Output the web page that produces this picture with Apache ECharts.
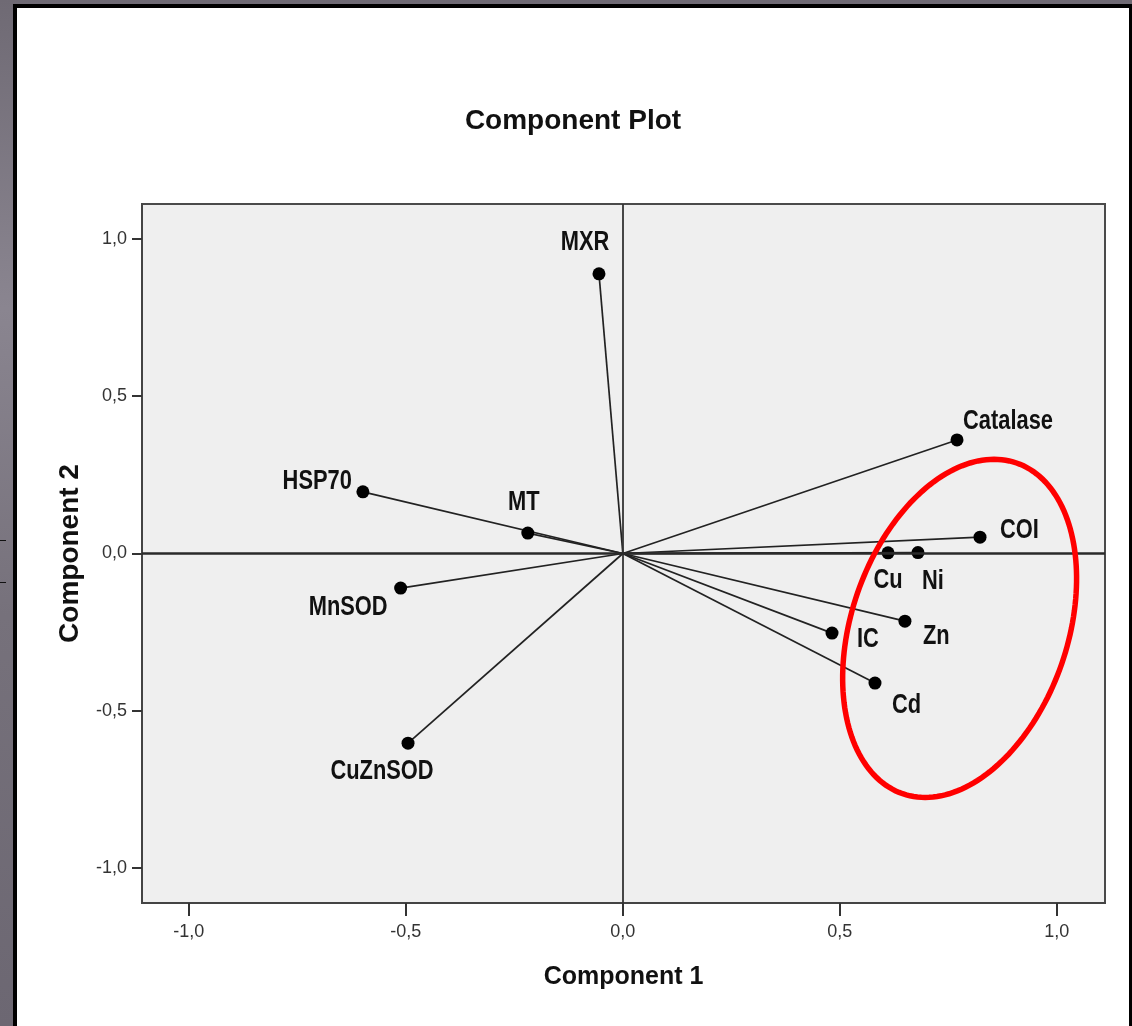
<!DOCTYPE html>
<html>
<head>
<meta charset="utf-8">
<title>Component Plot</title>
<script src="https://cdn.jsdelivr.net/npm/echarts@6/dist/echarts.min.js"></script>
<style>
  html, body { margin: 0; padding: 0; width: 1132px; height: 1026px; overflow: hidden; }
  body { background: linear-gradient(180deg, #6f6a74 0%, #8a8590 30%, #76717b 60%, #6c6772 100%); position: relative; }
  #frame {
    position: absolute; left: 13px; top: 4px; width: 1112px; height: 1040px;
    border-left: 4px solid #000; border-top: 4px solid #000; border-right: 3px solid #000;
    background: #fff;
  }
  #chart { width: 1112px; height: 1018px; }
  .nick { position: absolute; left: 0; width: 6px; height: 1px; background: #111; }
</style>
</head>
<body>
<div class="nick" style="top:540px"></div>
<div class="nick" style="top:582px"></div>
<div id="frame"><div id="chart"></div></div>
<script>
// Loadings of each variable on the two extracted components
const variables = ['MXR', 'Catalase', 'COI', 'Cu', 'Ni', 'Zn', 'IC', 'Cd', 'HSP70', 'MT', 'MnSOD', 'CuZnSOD'];
const component1 = [-0.055, 0.770, 0.823, 0.611, 0.680, 0.650, 0.482, 0.581, -0.599, -0.219, -0.512, -0.495];
const component2 = [0.889, 0.361, 0.052, 0.002, 0.003, -0.215, -0.253, -0.412, 0.196, 0.065, -0.110, -0.603];
const tickValues = [-1, -0.5, 0, 0.5, 1];

// Highlighted cluster outline (centre and semi-axes in component units, tilt in degrees)
const clusterCentre = [0.776, -0.238];
const clusterRadii = [0.249, 0.556];
const clusterTiltDeg = 19;

// Label placement next to each point: [dx, dy, align]
const labelPlacement = {
  MXR: [-14, -31, 'center'],
  Catalase: [6, -18, 'left'],
  COI: [20, -7, 'left'],
  Cu: [0, 28, 'center'],
  Ni: [15, 29, 'center'],
  Zn: [18, 15, 'left'],
  IC: [25, 6, 'left'],
  Cd: [17, 22, 'left'],
  HSP70: [-11, -10, 'right'],
  MT: [-4, -31, 'center'],
  MnSOD: [-13, 19, 'right'],
  CuZnSOD: [-26, 28, 'center']
};

const loadings = variables.map((name, i) => [component1[i], component2[i], name]);

// Condensed bold face: regular bold squeezed horizontally
const labelFont = 'bold 27px "Liberation Sans", Arial, sans-serif';
const labelSqueeze = 0.81;
const fmt = v => v.toFixed(1).replace('.', ',');

const chart = echarts.init(document.getElementById('chart'), null, { renderer: 'canvas' });

chart.setOption({
  animation: false,
  backgroundColor: '#ffffff',
  title: {
    text: 'Component Plot',
    left: 'center',
    top: 99,
    padding: 0,
    textStyle: {
      fontFamily: '"Liberation Sans", Arial, sans-serif',
      fontWeight: 'bold',
      fontSize: 28,
      color: '#111'
    }
  },
  grid: {
    left: 125, top: 196, width: 963, height: 699,
    show: true, backgroundColor: '#efefef', borderColor: '#4a4a4a', borderWidth: 2
  },
  xAxis: {
    type: 'value',
    min: -1.108, max: 1.111,
    name: 'Component 1',
    nameLocation: 'middle',
    nameGap: 62,
    nameTextStyle: { fontFamily: '"Liberation Sans", Arial, sans-serif', fontWeight: 'bold', fontSize: 25, color: '#111' },
    splitLine: { show: false },
    axisLine: { show: true, onZero: false, lineStyle: { color: '#444', width: 2 } },
    axisTick: { show: true, length: 13, customValues: tickValues, lineStyle: { color: '#333', width: 2 } },
    axisLabel: { customValues: tickValues, margin: 20, formatter: fmt, fontFamily: '"Liberation Sans", Arial, sans-serif', fontSize: 18, color: '#333' }
  },
  yAxis: {
    type: 'value',
    min: -1.111, max: 1.111,
    name: 'Component 2',
    nameLocation: 'middle',
    nameGap: 58,
    nameTextStyle: { fontFamily: '"Liberation Sans", Arial, sans-serif', fontWeight: 'bold', fontSize: 28, color: '#111' },
    splitLine: { show: false },
    axisLine: { show: true, onZero: false, lineStyle: { color: '#444', width: 2 } },
    axisTick: { show: true, length: 10, customValues: tickValues, lineStyle: { color: '#333', width: 2 } },
    axisLabel: { customValues: tickValues, margin: 15, formatter: fmt, fontFamily: '"Liberation Sans", Arial, sans-serif', fontSize: 18, color: '#333' }
  },
  series: [
    {
      type: 'custom',
      name: 'loadings',
      data: loadings,
      encode: { x: 0, y: 1 },
      clip: false,
      renderItem: function (params, api) {
        const x = api.value(0), y = api.value(1);
        const name = variables[params.dataIndex];
        const o = api.coord([0, 0]);
        const p = api.coord([x, y]);
        const lp = labelPlacement[name] || [8, 0, 'left'];
        return {
          type: 'group',
          children: [
            { type: 'line', shape: { x1: o[0], y1: o[1], x2: p[0], y2: p[1] }, style: { stroke: '#222', lineWidth: 1.7 } },
            { type: 'circle', shape: { cx: p[0], cy: p[1], r: 6.5 }, style: { fill: '#000' } },
            { type: 'text', x: p[0] + lp[0], y: p[1] + lp[1], scaleX: labelSqueeze, scaleY: 1,
              style: { x: 0, y: 0, text: name, font: labelFont, fill: '#111', align: lp[2], verticalAlign: 'middle' } }
          ]
        };
      },
      markLine: {
        silent: true,
        symbol: ['none', 'none'],
        label: { show: false },
        animation: false,
        data: [
          { xAxis: 0, lineStyle: { color: '#333', width: 1.8, type: 'solid' } },
          { yAxis: 0, lineStyle: { color: '#2a2a2a', width: 2.5, type: 'solid' } }
        ]
      },
      z: 3
    },
    {
      type: 'custom',
      name: 'cluster',
      data: [clusterCentre],
      encode: { x: 0, y: 1 },
      silent: true,
      z: 5,
      renderItem: function (params, api) {
        const c = api.coord([api.value(0), api.value(1)]);
        const unit = api.size([1, 1]);
        const rx = clusterRadii[0] * unit[0];
        const ry = clusterRadii[1] * unit[1];
        const phi = clusterTiltDeg * Math.PI / 180;
        const pts = [];
        for (let k = 0; k < 180; k++) {
          const t = k / 180 * Math.PI * 2;
          const ex = rx * Math.cos(t), ey = ry * Math.sin(t);
          pts.push([c[0] + ex * Math.cos(phi) - ey * Math.sin(phi),
                    c[1] + ex * Math.sin(phi) + ey * Math.cos(phi)]);
        }
        return { type: 'polygon', shape: { points: pts }, style: { fill: 'none', stroke: '#ff0000', lineWidth: 5.5 } };
      }
    }
  ]
});
</script>
</body>
</html>
